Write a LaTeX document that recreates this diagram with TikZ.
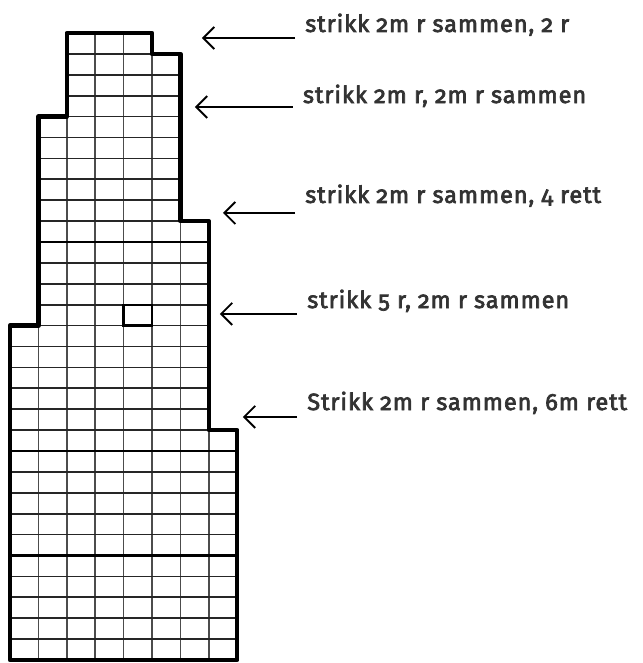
\documentclass[tikz,border=0pt]{standalone}
\usepackage{fontspec}
\setmainfont[Numbers=OldStyle]{Fira Sans}
\usetikzlibrary{arrows.meta}

\tikzset{
  rowline/.style={black!85, line width=1.7pt},
  colline/.style={black!70, line width=1.7pt},
  fiverow/.style={black, line width=2.4pt},
  outline/.style={line width=4.5pt, line join=round},
  lbl/.style={anchor=base west, inner xsep=10pt, inner ysep=0pt, text=black!80,
    font=\fontsize{23.5}{28}\selectfont\addfontfeature{FakeBold=3,LetterSpace=4}},
  arr/.style={-{Straight Barb[length=11pt,width=22pt]}, line width=1.9pt},
}

\begin{document}
\begin{tikzpicture}[x=28.4pt, y=20.9pt]
    \useasboundingbox (-0.352,-0.144) rectangle (22.289,31.579);

    % Draw grid lines inside the piece
    \begin{scope}
        \clip (0,0) -- (8,0) -- (8,11) -- (7,11) -- (7,21) -- (6,21) -- (6,29) -- (5,29)
            -- (5,30) -- (2,30) -- (2,26) -- (1,26) -- (1,16) -- (0,16) -- cycle;
        \foreach \c in {1,...,7}
            \draw[colline] (\c,0) -- (\c,30);
        \foreach \r in {1,...,29}
            \draw[rowline] (0,\r) -- (8,\r);
        \foreach \r in {5,10,20}
            \draw[fiverow] (0,\r) -- (8,\r);
    \end{scope}

    % Add marked stitch
    \draw[line width=2.3pt] (4,16) rectangle (5,17);

    % Draw outline
    \draw[outline] (0,0) -- (8,0) -- (8,11) -- (7,11) -- (7,21) -- (6,21) -- (6,29) -- (5,29)
        -- (5,30) -- (2,30) -- (2,26) -- (1,26) -- (1,16) -- (0,16) -- cycle;

    % Add decrease labels
    \node[lbl] (dec1) at (10.04,30.05) {strikk 2m r sammen, 2 r};
    \node[lbl] (dec2) at (9.96,26.65) {strikk 2m r, 2m r sammen};
    \node[lbl] (dec3) at (10.04,21.87) {strikk 2m r sammen, 4 rett};
    \node[lbl] (dec4) at (10.11,16.84) {strikk 5 r, 2m r sammen};
    \node[lbl] (dec5) at (10.11,11.96) {Strikk 2m r sammen, 6m rett};

    % Add arrows
    \coordinate (tip1) at (6.76,29.76);
    \coordinate (tip2) at (6.51,26.46);
    \coordinate (tip3) at (7.50,21.39);
    \coordinate (tip4) at (7.39,16.56);
    \coordinate (tip5) at (8.20,11.63);
    \draw[arr] (dec1.west |- tip1) -- (tip1);
    \draw[arr] (dec2.west |- tip2) -- (tip2);
    \draw[arr] (dec3.west |- tip3) -- (tip3);
    \draw[arr] (dec4.west |- tip4) -- (tip4);
    \draw[arr] (dec5.west |- tip5) -- (tip5);
\end{tikzpicture}
\end{document}
